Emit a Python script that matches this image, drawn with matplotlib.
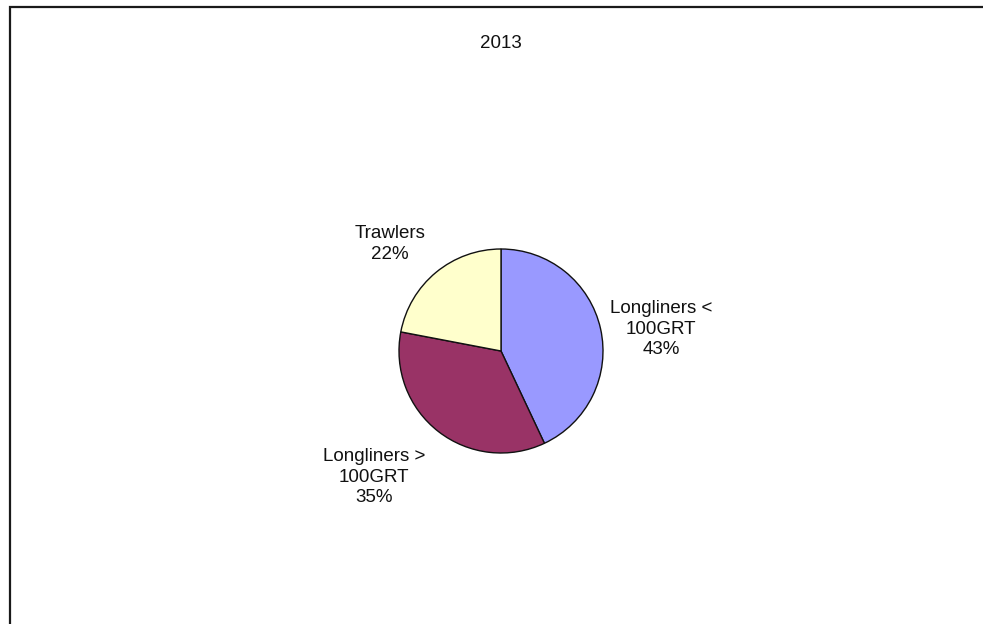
import numpy as np
import matplotlib.pyplot as plt
from matplotlib.patches import Rectangle

plt.rcParams['font.family'] = ['Liberation Sans', 'DejaVu Sans']

title = '2013'
categories = ['Longliners <\n100GRT', 'Longliners >\n100GRT', 'Trawlers']
shares = [43, 35, 22]
colors = ['#9999FF', '#993366', '#FFFFCC']

# label placement (pie radii / degrees offset from wedge middle)
label_radius = [1.585, 1.754, 1.511]
label_shift = [-4.8, -7.4, 6.4]

W, H = 983, 624
fig = plt.figure(figsize=(W / 100, H / 100), dpi=100)
fig.patch.set_facecolor('white')

# outer chart frame (right and bottom fall outside the picture)
fig.patches.append(Rectangle((9.5 / W, -0.1), 1.2, 1.1 - 7 / H,
                             transform=fig.transFigure, fill=False,
                             edgecolor='#1a1a1a', linewidth=1.6))

cx, cy, r = 501, 351, 102
ax = fig.add_axes([(cx - r) / W, (H - cy - r) / H, 2 * r / W, 2 * r / H])
wedges, _ = ax.pie(shares, colors=colors, startangle=90, counterclock=False,
                   wedgeprops=dict(edgecolor='#111111', linewidth=1.0))
ax.set_xlim(-1, 1)
ax.set_ylim(-1, 1)
ax.set_aspect('auto')
ax.axis('off')

total = sum(shares)
for w, name, val, rr, sh in zip(wedges, categories, shares, label_radius, label_shift):
    mid = np.deg2rad((w.theta1 + w.theta2) / 2 + sh)
    ax.text(rr * np.cos(mid), rr * np.sin(mid),
            f'{name}\n{round(100 * val / total)}%',
            ha='center', va='center', multialignment='center',
            fontsize=13.5, color='#111111', linespacing=1.3, clip_on=False)

fig.text(cx / W, 1 - 43 / H, title, ha='center', va='center',
         fontsize=13.5, color='#111111')

fig.savefig('out.png', dpi=100, facecolor='white')
